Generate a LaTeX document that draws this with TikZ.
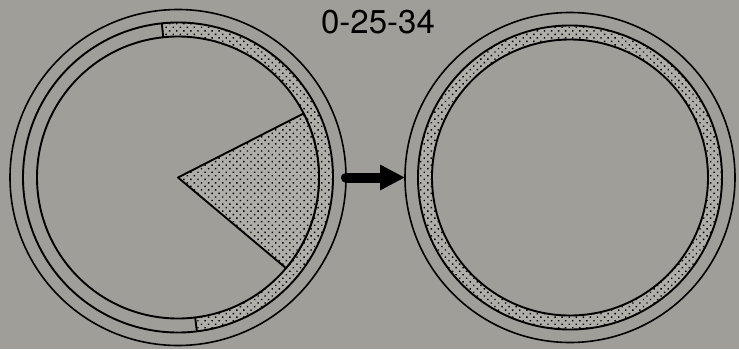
\documentclass[tikz,border=0pt]{standalone}
\usepackage{fontspec}
\setmainfont{TeX Gyre Heros}
\usepackage{xcolor}
\usetikzlibrary{arrows.meta,calc,patterns.meta}
\definecolor{paper}{RGB}{160,158,153}
\definecolor{stipple}{RGB}{176,174,169}

\begin{document}
\begin{tikzpicture}[x=1pt,y=1pt,
  ring/.style={circle,draw,inner sep=0pt,outer sep=0pt,line width=1.6pt},
  band/.style={draw,line width=1.9pt},
  dotted fill/.style={fill=stipple,postaction={pattern={Dots[radius=1pt,distance=5pt,angle=45]}}},
  fat arrow/.style={line width=10pt,line cap=round,-{Triangle[length=25pt,width=24pt]}},
  title/.style={font=\fontsize{33}{36}\selectfont}
]
  \fill[paper] (0,0) rectangle (739,349);
  \useasboundingbox (0,0) rectangle (739,349);

  \node[title] (lbl) at (378,327) {0-25-34};

  \node[ring,minimum size=336pt] (left) at (178,171.5) {};
  \node[ring,minimum size=330pt] (right) at (570,171.5) {};

  % partly filled band and wedge
  \path[dotted fill] ($(left)+(96:155)$) arc[start angle=96,end angle=-83,radius=155]
    -- ($(left)+(-83:141)$) arc[start angle=-83,end angle=96,radius=141] -- cycle;
  \draw[band] ($(left)+(96:155)$) -- ($(left)+(96:141)$);
  \draw[band] ($(left)+(-83:155)$) -- ($(left)+(-83:141)$);
  \draw[band] (left) circle[radius=155];
  \draw[band] (left) circle[radius=141];
  \draw[band,dotted fill,line join=round] (left.center) -- ($(left)+(27:141)$)
    arc[start angle=27,end angle=-40,radius=141] -- cycle;

  % fully filled band
  \path[dotted fill,even odd rule] (right) circle[radius=152] (right) circle[radius=138];
  \draw[band] (right) circle[radius=152];
  \draw[band] (right) circle[radius=138];

  \draw[fat arrow,yshift=2.5pt] (left.east) -- (right.west);
\end{tikzpicture}
\end{document}
